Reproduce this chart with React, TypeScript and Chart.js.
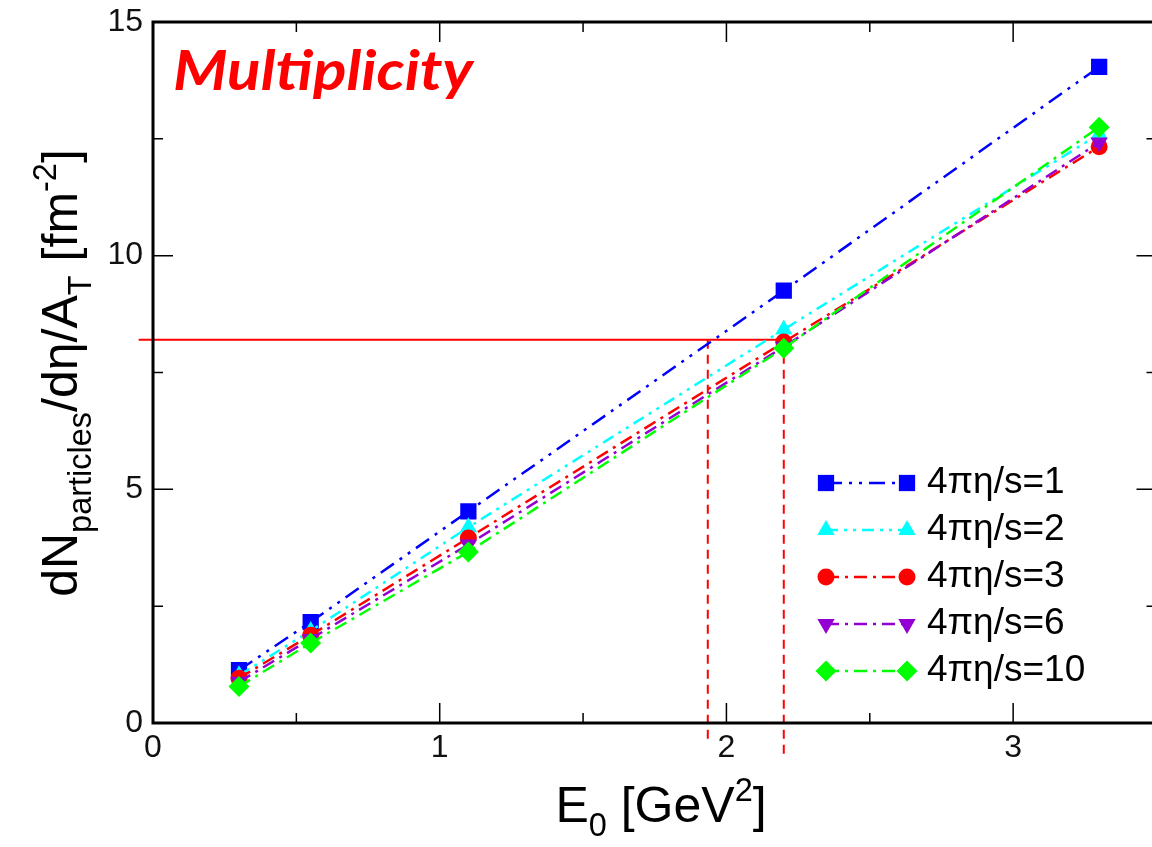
import React, { useEffect, useRef } from 'react';
import { Chart, registerables } from 'chart.js';

Chart.register(...registerables);

// ---------------- data ----------------
const energies = [0.3, 0.55, 1.1, 2.2, 3.3];
const seriesLabels = ['4πη/s=1', '4πη/s=2', '4πη/s=3', '4πη/s=6', '4πη/s=10'];
const multEta1 = [1.13, 2.16, 4.53, 9.25, 14.04];
const multEta2 = [1.02, 1.97, 4.19, 8.42, 12.6];
const multEta3 = [0.96, 1.88, 3.96, 8.15, 12.33];
const multEta6 = [0.88, 1.8, 3.82, 8.05, 12.42];
const multEta10 = [0.78, 1.71, 3.66, 8.02, 12.75];
const xTickValues = [0, 1, 2, 3];
const xMinorValues = [0.5, 1.5, 2.5];
const yTickValues = [0, 5, 10, 15];
const yMinorValues = [2.5, 7.5, 12.5];
const refMultiplicity = 8.2;
const refStartE = -0.05;
const refEnergies = [1.935, 2.2];
const refDropEnds = [-0.43, -0.75];

const seriesValues = [multEta1, multEta2, multEta3, multEta6, multEta10];

// ---------------- styles ----------------
const seriesStyles = [
  { color: '#0000ff', shape: 'rect', rotation: 0, radius: 11.5, dash: [16, 7, 3, 7, 3, 7] },
  { color: '#00ffff', shape: 'triangle', rotation: 0, radius: 10, dash: [12, 6, 3, 6, 3, 6] },
  { color: '#ff0000', shape: 'circle', rotation: 0, radius: 8.5, dash: [13, 6, 3, 6] },
  { color: '#9400d3', shape: 'triangle', rotation: 180, radius: 10, dash: [13, 6, 3, 6] },
  { color: '#00ff00', shape: 'rectRot', rotation: 0, radius: 10.5, dash: [13, 6, 3, 6] },
];

const FONT = "'Liberation Sans', Arial, sans-serif";

type Part = [string, 'n' | 'sub' | 'sup'];
const yTitleParts: Part[] = [
  ['dN', 'n'], ['particles', 'sub'], ['/dη/A', 'n'], ['T', 'sub'], [' [fm', 'n'], ['-2', 'sup'], [']', 'n'],
];
const xTitleParts: Part[] = [
  ['E', 'n'], ['0', 'sub'], [' [GeV', 'n'], ['2', 'sup'], [']', 'n'],
];

function drawRich(ctx: CanvasRenderingContext2D, parts: Part[], cx: number, baseY: number, size: number) {
  const small = size * 0.65;
  let total = 0;
  for (const [t, k] of parts) {
    ctx.font = `${k === 'n' ? size : small}px ${FONT}`;
    total += ctx.measureText(t).width;
  }
  let x = cx - total / 2;
  ctx.textAlign = 'left';
  ctx.textBaseline = 'alphabetic';
  for (const [t, k] of parts) {
    ctx.font = `${k === 'n' ? size : small}px ${FONT}`;
    const dy = k === 'sub' ? size * 0.28 : k === 'sup' ? -size * 0.42 : 0;
    ctx.fillText(t, x, baseY + dy);
    x += ctx.measureText(t).width;
  }
}

function drawMarker(ctx: CanvasRenderingContext2D, st: any, x: number, y: number) {
  const r = st.radius;
  ctx.save();
  ctx.fillStyle = st.color;
  ctx.beginPath();
  if (st.shape === 'rect') {
    const s = r * Math.SQRT1_2;
    ctx.rect(x - s, y - s, 2 * s, 2 * s);
  } else if (st.shape === 'circle') {
    ctx.arc(x, y, r, 0, Math.PI * 2);
  } else if (st.shape === 'rectRot') {
    ctx.moveTo(x - r, y);
    ctx.lineTo(x, y - r);
    ctx.lineTo(x + r, y);
    ctx.lineTo(x, y + r);
    ctx.closePath();
  } else {
    const sg = st.rotation === 180 ? -1 : 1;
    ctx.moveTo(x, y - sg * r);
    ctx.lineTo(x + r * 0.866, y + (sg * r) / 2);
    ctx.lineTo(x - r * 0.866, y + (sg * r) / 2);
    ctx.closePath();
  }
  ctx.fill();
  ctx.restore();
}

const decorPlugin = {
  id: 'decor',
  afterDraw(chart: any) {
    const ctx: CanvasRenderingContext2D = chart.ctx;
    const { left, right, top, bottom } = chart.chartArea;
    const xs = chart.scales.x;
    const ys = chart.scales.y;
    ctx.save();
    // ticks (inward)
    ctx.strokeStyle = '#000';
    ctx.lineWidth = 1.5;
    ctx.beginPath();
    const xt = (v: number, len: number) => {
      const p = xs.getPixelForValue(v);
      ctx.moveTo(p, bottom); ctx.lineTo(p, bottom - len);
      ctx.moveTo(p, top); ctx.lineTo(p, top + len);
    };
    const yt = (v: number, len: number) => {
      const p = ys.getPixelForValue(v);
      ctx.moveTo(left, p); ctx.lineTo(left + len, p);
      ctx.moveTo(right, p); ctx.lineTo(right - len, p);
    };
    xTickValues.forEach((v) => xt(v, 20));
    xMinorValues.forEach((v) => xt(v, 10));
    yTickValues.forEach((v) => yt(v, 20));
    yMinorValues.forEach((v) => yt(v, 10));
    ctx.stroke();
    // frame
    ctx.lineWidth = 3;
    ctx.strokeRect(left, top, right - left, bottom - top);

    // axis titles
    ctx.fillStyle = '#000';
    drawRich(ctx, xTitleParts, 661, 822, 50);
    ctx.save();
    ctx.translate(77, 373);
    ctx.rotate(-Math.PI / 2);
    drawRich(ctx, yTitleParts, 0, 0, 50);
    ctx.restore();

    // panel label
    ctx.save();
    ctx.fillStyle = '#ff0000';
    ctx.font = "italic bold 55px Lato, 'Open Sans', sans-serif";
    ctx.textAlign = 'left';
    ctx.textBaseline = 'alphabetic';
    ctx.translate(173, 90);
    ctx.scale(1.13, 1);
    ctx.fillText('Multiplicity', 0, 0);
    ctx.restore();

    // legend
    const x1 = 826, x2 = 907, tx = 927, y0 = 483, dy = 47;
    seriesLabels.forEach((lab, i) => {
      const st = seriesStyles[i];
      const y = y0 + i * dy;
      ctx.save();
      ctx.strokeStyle = st.color;
      ctx.lineWidth = 2.5;
      ctx.setLineDash(st.dash);
      ctx.beginPath();
      ctx.moveTo(x1, y);
      ctx.lineTo(x2, y);
      ctx.stroke();
      ctx.restore();
      drawMarker(ctx, st, x1, y);
      drawMarker(ctx, st, x2, y);
      ctx.fillStyle = '#000';
      ctx.font = `37px ${FONT}`;
      ctx.textAlign = 'left';
      ctx.textBaseline = 'middle';
      ctx.fillText(lab, tx, y);
    });
    ctx.restore();
  },
};

export default function App() {
  const ref = useRef<HTMLCanvasElement>(null);
  useEffect(() => {
    if (!ref.current) return;
    const seriesDatasets = seriesValues.map((vals, i) => {
      const st = seriesStyles[i];
      return {
        label: seriesLabels[i],
        data: energies.map((e, j) => ({ x: e, y: vals[j] })),
        showLine: true,
        borderColor: st.color,
        backgroundColor: st.color,
        borderWidth: 2.5,
        borderDash: st.dash,
        pointStyle: st.shape,
        pointRotation: st.rotation,
        pointRadius: st.radius,
        pointHoverRadius: st.radius,
        pointBackgroundColor: st.color,
        pointBorderColor: st.color,
        pointBorderWidth: 0,
        tension: 0,
        order: seriesValues.length - 1 - i,
      };
    });
    const refDatasets: any[] = [
      {
        label: 'ref-h',
        data: [{ x: refStartE, y: refMultiplicity }, { x: refEnergies[1], y: refMultiplicity }],
        showLine: true,
        borderColor: '#ff0000',
        borderWidth: 2,
        pointRadius: 0,
        clip: false,
        order: 10,
      },
      ...refEnergies.map((e, k) => ({
        label: 'ref-v' + k,
        data: [{ x: e, y: refMultiplicity }, { x: e, y: refDropEnds[k] }],
        showLine: true,
        borderColor: '#ff0000',
        borderWidth: 2,
        borderDash: [9, 6],
        pointRadius: 0,
        clip: false,
        order: 10,
      })),
    ];
    const tickFont = { family: FONT, size: 32 };
    const chart = new Chart(ref.current, {
      type: 'scatter',
      data: { datasets: [...refDatasets, ...seriesDatasets] as any },
      options: {
        responsive: true,
        maintainAspectRatio: false,
        animation: false,
        events: [],
        layout: { padding: { top: 22, right: 0, left: 0, bottom: 0 } },
        plugins: { legend: { display: false }, tooltip: { enabled: false }, title: { display: false } },
        scales: {
          x: {
            type: 'linear',
            min: 0,
            max: 3.5,
            afterFit: (s: any) => { s.height = 124; s.paddingLeft = 0; s.paddingRight = 0; },
            afterBuildTicks: (s: any) => { s.ticks = xTickValues.map((v) => ({ value: v })); },
            grid: { display: false, drawTicks: false },
            border: { display: false },
            ticks: { font: tickFont, color: '#111', padding: 6, maxRotation: 0, autoSkip: false, callback: (v: any) => String(v) },
          },
          y: {
            type: 'linear',
            min: 0,
            max: 15,
            afterFit: (s: any) => { s.width = 153; s.paddingTop = 0; s.paddingBottom = 0; },
            afterBuildTicks: (s: any) => { s.ticks = yTickValues.map((v) => ({ value: v })); },
            grid: { display: false, drawTicks: false },
            border: { display: false },
            ticks: { font: tickFont, color: '#111', padding: 10, autoSkip: false, callback: (v: any) => String(v) },
          },
        },
      } as any,
      plugins: [decorPlugin],
    });
    return () => chart.destroy();
  }, []);
  return (
    <div style={{ position: 'fixed', left: 0, top: 0, width: 1152, height: 847, overflow: 'hidden', background: '#fff' }}>
      <div style={{ position: 'relative', width: 1168, height: 847 }}>
        <canvas ref={ref} />
      </div>
    </div>
  );
}
